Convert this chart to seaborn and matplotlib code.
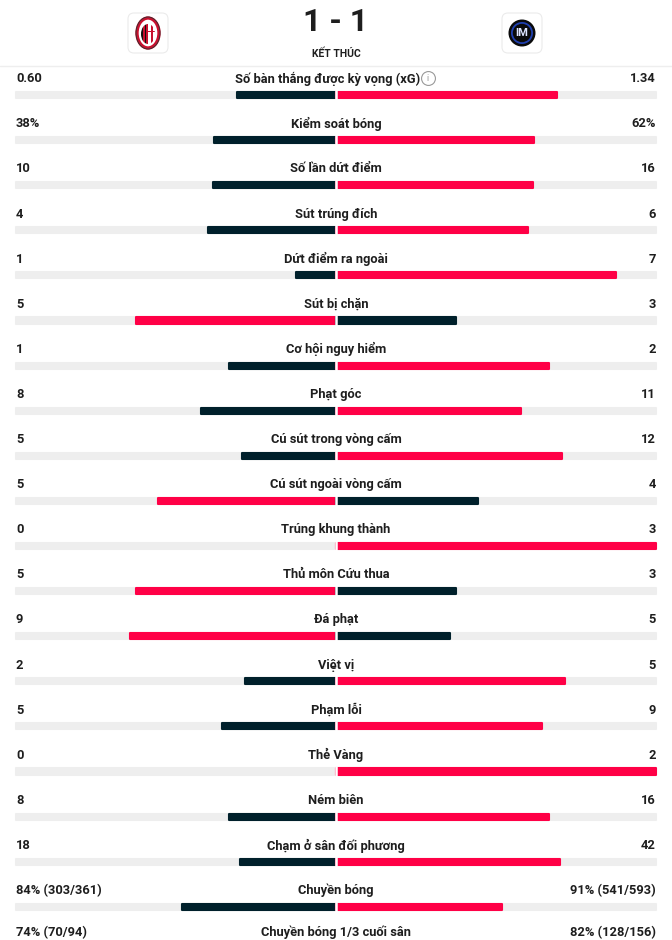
import pandas as pd
import matplotlib.pyplot as plt
import seaborn as sns
import numpy as np
from matplotlib.patches import FancyBboxPatch, Ellipse, Circle, Rectangle

# du lieu thong ke tran dau
nhan = ["Số bàn thắng được kỳ vọng (xG)", "Kiểm soát bóng", "Số lần dứt điểm",
        "Sút trúng đích", "Dứt điểm ra ngoài", "Sút bị chặn", "Cơ hội nguy hiểm",
        "Phạt góc", "Cú sút trong vòng cấm", "Cú sút ngoài vòng cấm",
        "Trúng khung thành", "Thủ môn Cứu thua", "Đá phạt", "Việt vị", "Phạm lỗi",
        "Thẻ Vàng", "Ném biên", "Chạm ở sân đối phương", "Chuyền bóng",
        "Chuyền bóng 1/3 cuối sân"]
nha = [0.60, 38, 10, 4, 1, 5, 1, 8, 5, 5, 0, 5, 9, 2, 5, 0, 8, 18, 84, 74]
khach = [1.34, 62, 16, 6, 7, 3, 2, 11, 12, 4, 3, 3, 5, 5, 9, 2, 16, 42, 91, 82]
chu_nha = ["0.60", "38%", "10", "4", "1", "5", "1", "8", "5", "5", "0", "5", "9",
           "2", "5", "0", "8", "18", "84% (303/361)", "74% (70/94)"]
chu_khach = ["1.34", "62%", "16", "6", "7", "3", "2", "11", "12", "4", "3", "3", "5",
             "5", "9", "2", "16", "42", "91% (541/593)", "82% (128/156)"]
ti_so = "1 - 1"
trang_thai = "KẾT THÚC"

DO = "#ff0046"
DEN = "#00202b"
XAM = "#eeeeee"
CHU = "#1e1e1e"

n = len(nhan)
df = pd.DataFrame({"hang": np.arange(n), "nha": nha, "khach": khach})
tong = df["nha"] + df["khach"]
df["trai"] = -df["nha"] / tong
df["phai"] = df["khach"] / tong
df["mau_trai"] = np.where(df["nha"] > df["khach"], "thang", "thua")
df["mau_phai"] = np.where(df["khach"] > df["nha"], "thang", "thua")
df["nen_trai"] = -1.0
df["nen_phai"] = 1.0

sns.set_theme(style="white")
plt.rcParams["font.family"] = ["Roboto", "DejaVu Sans"]

fig = plt.figure(figsize=(6.72, 9.40), dpi=100)
ax = fig.add_axes([0, 0, 1, 1])

pal = {"thang": DO, "thua": DEN}
w = 0.135
sns.barplot(data=df, x="nen_trai", y="hang", orient="h", color=XAM, width=w,
            saturation=1, ax=ax)
sns.barplot(data=df, x="nen_phai", y="hang", orient="h", color=XAM, width=w,
            saturation=1, ax=ax)
sns.barplot(data=df, x="trai", y="hang", hue="mau_trai", palette=pal, orient="h",
            width=w, dodge=False, legend=False, saturation=1, ax=ax)
sns.barplot(data=df, x="phai", y="hang", hue="mau_phai", palette=pal, orient="h",
            width=w, dodge=False, legend=False, saturation=1, ax=ax)

# bo tron goc thanh
for p in ax.patches:
    if abs(p.get_width()) < 1e-9:
        p.set_visible(False)
        continue
    p.set_edgecolor(p.get_facecolor())
    p.set_linewidth(1.5)
    p.set_joinstyle("round")

ax.vlines(np.zeros(n), df["hang"] - 0.13, df["hang"] + 0.13, color="white", lw=1.8, zorder=5)

dy = -0.36
for i in range(n):
    xc = -0.025 if i == 0 else 0
    yy = i + dy if i < n - 1 else i + dy - 0.08  # hang cuoi sat mep duoi
    ax.text(xc, yy, nhan[i], ha="center", va="center", fontsize=9.3,
            fontweight="bold", color=CHU)
    ax.text(-1.0, yy, chu_nha[i], ha="left", va="center", fontsize=9.3,
            fontweight="bold", color=CHU)
    ax.text(1.0, yy, chu_khach[i], ha="right", va="center", fontsize=9.3,
            fontweight="bold", color=CHU)

ax.set_xlim(-1.05, 1.05)
ax.set_ylim((940 - 95) / 45.1, -95 / 45.1)
ax.axis("off")

# phan dau: logo, ti so
hd = fig.add_axes([0, 0, 1, 1], zorder=3)
hd.set_xlim(0, 672)
hd.set_ylim(940, 0)
hd.axis("off")
hd.patch.set_alpha(0)

hd.plot([0, 672], [66, 66], color="#eeeeee", lw=1)
for cx in (148, 522):
    hd.add_patch(FancyBboxPatch((cx - 20, 13), 40, 40, boxstyle="round,pad=0,rounding_size=6",
                                fc="white", ec="#ebebeb", lw=0.8))

# AC Milan
hd.add_patch(Ellipse((148, 33), 22, 30, fc="white", ec="#c8102e", lw=2.4))
hd.add_patch(Ellipse((148, 33), 24, 32, fc="none", ec="#333333", lw=0.6))
trong = Ellipse((148, 34), 14, 20, fc="white", ec="none")
hd.add_patch(trong)
for k, x0 in enumerate(np.arange(141, 148, 1.75)):
    r = Rectangle((x0, 20), 1.75, 30, fc=("#c8102e" if k % 2 else "#111111"), ec="none")
    hd.add_patch(r)
    r.set_clip_path(trong)
r1 = Rectangle((150.8, 24), 1.8, 20, fc="#c8102e", ec="none")
r2 = Rectangle((148, 30.5), 8, 1.8, fc="#c8102e", ec="none")
for r in (r1, r2):
    hd.add_patch(r)
    r.set_clip_path(trong)

# Inter
hd.add_patch(Circle((522, 33), 13.5, fc="#0a0a0a", ec="none"))
hd.add_patch(Circle((522, 33), 11, fc="#1f3fae", ec="none"))
hd.add_patch(Circle((522, 33), 9.2, fc="#0a0a0a", ec="none"))
hd.text(522, 33.5, "IM", ha="center", va="center", fontsize=8, fontweight="bold",
        color="#dfe6ff")

hd.text(336, 22, ti_so, ha="center", va="center", fontsize=23, fontweight="bold",
        color=CHU)
hd.text(336, 53.5, trang_thai, ha="center", va="center", fontsize=7.5, fontweight="bold",
        color=CHU)

# bieu tuong thong tin canh xG
hd.plot(427.5, 78, marker="o", ms=10, mfc="white", mec="#9a9a9a", mew=0.8)
hd.text(427.5, 78.5, "i", ha="center", va="center", fontsize=6.5, color="#9a9a9a")

fig.savefig("out.png", dpi=100, facecolor="white")
